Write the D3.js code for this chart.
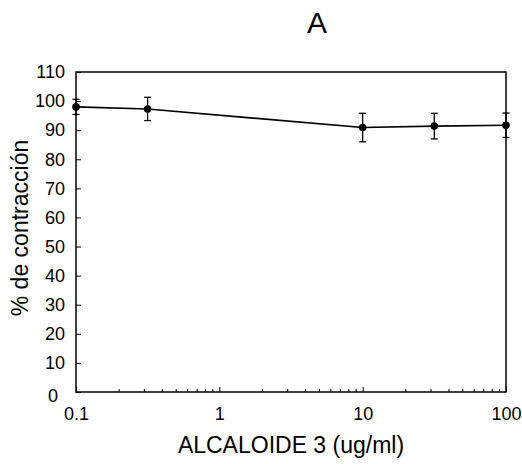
<!DOCTYPE html>
<html>
<head>
<meta charset="utf-8">
<script src="https://cdn.jsdelivr.net/npm/d3@7"></script>
<style>
  body { margin: 0; background: #fff; }
  svg { font-family: "Liberation Sans", Arial, sans-serif; }
</style>
</head>
<body>
<svg width="522" height="464"></svg>
<script>
// concentration (ug/ml) and % contraction with error
var conc = [0.1, 0.316, 10, 31.6, 100];
var contraction = [98, 97.3, 90.9, 91.4, 91.7];
var errors = [2.6, 4, 4.9, 4.4, 4.2];
var yTicks = [0, 10, 20, 30, 40, 50, 60, 70, 80, 90, 100, 110];
var xTicks = [0.1, 1, 10, 100];

var svg = d3.select("svg");
var margin = {top: 72, right: 16, bottom: 72, left: 76};
var width = 522 - margin.left - margin.right;
var height = 464 - margin.top - margin.bottom;

var g = svg.append("g")
  .attr("transform", "translate(" + margin.left + "," + margin.top + ")");

var x = d3.scaleLog().domain([0.1, 100]).range([0, width]);
var y = d3.scaleLinear().domain([0, 110]).range([height, 0]);

// minor ticks on the log axis
var minor = [];
[0.1, 1, 10].forEach(function(base) {
  for (var k = 2; k <= 9; k++) minor.push(base * k);
});

g.selectAll(".minor")
  .data(minor)
  .enter().append("line")
  .attr("x1", function(d) { return x(d); })
  .attr("x2", function(d) { return x(d); })
  .attr("y1", height)
  .attr("y2", height - 3)
  .attr("stroke", "#000");

// x axis
var xAxis = g.append("g")
  .attr("transform", "translate(0," + height + ")")
  .call(d3.axisBottom(x).tickValues(xTicks).tickFormat(d3.format("~g")).tickSize(-5).tickPadding(15));
xAxis.selectAll("text").style("font-size", "18px").attr("fill", "#000");

// y axis
var yAxis = g.append("g")
  .call(d3.axisLeft(y).tickValues(yTicks).tickSize(-5).tickPadding(11));
yAxis.selectAll("text").style("font-size", "18px").attr("fill", "#000");
// the zero label sits a bit lower and to the left in the original
yAxis.selectAll(".tick text").filter(function(d) { return d === 0; })
  .attr("dx", "-7").attr("dy", "0.55em");

svg.selectAll(".domain").remove();
svg.selectAll(".tick line").attr("stroke", "#000");

// plot frame
g.append("rect")
  .attr("width", width)
  .attr("height", height)
  .attr("fill", "none")
  .attr("stroke", "#000")
  .attr("stroke-width", 1.5);

// line
var line = d3.line()
  .x(function(d, i) { return x(conc[i]); })
  .y(function(d) { return y(d); });

g.append("path")
  .datum(contraction)
  .attr("d", line)
  .attr("fill", "none")
  .attr("stroke", "#000")
  .attr("stroke-width", 1.6);

// error bars
var eb = g.selectAll(".err")
  .data(contraction)
  .enter().append("g");

eb.append("line")
  .attr("x1", function(d, i) { return x(conc[i]); })
  .attr("x2", function(d, i) { return x(conc[i]); })
  .attr("y1", function(d, i) { return y(d + errors[i]); })
  .attr("y2", function(d, i) { return y(d - errors[i]); })
  .attr("stroke", "#000")
  .attr("stroke-width", 1.3);

[1, -1].forEach(function(s) {
  eb.append("line")
    .attr("x1", function(d, i) { return x(conc[i]) - 3.5; })
    .attr("x2", function(d, i) { return x(conc[i]) + 3.5; })
    .attr("y1", function(d, i) { return y(d + s * errors[i]); })
    .attr("y2", function(d, i) { return y(d + s * errors[i]); })
    .attr("stroke", "#000")
    .attr("stroke-width", 1.3);
});

// points
g.selectAll(".pt")
  .data(contraction)
  .enter().append("circle")
  .attr("cx", function(d, i) { return x(conc[i]); })
  .attr("cy", function(d) { return y(d); })
  .attr("r", 3.8)
  .attr("fill", "#000");

// titles
svg.append("text")
  .attr("x", 317)
  .attr("y", 33)
  .attr("text-anchor", "middle")
  .style("font-size", "30px")
  .text("A");

svg.append("text")
  .attr("x", 291)
  .attr("y", 453)
  .attr("text-anchor", "middle")
  .style("font-size", "23px")
  .text("ALCALOIDE 3 (ug/ml)");

svg.append("text")
  .attr("transform", "translate(28,228) rotate(-90)")
  .attr("text-anchor", "middle")
  .style("font-size", "23px")
  .text("% de contracción");
</script>
</body>
</html>
